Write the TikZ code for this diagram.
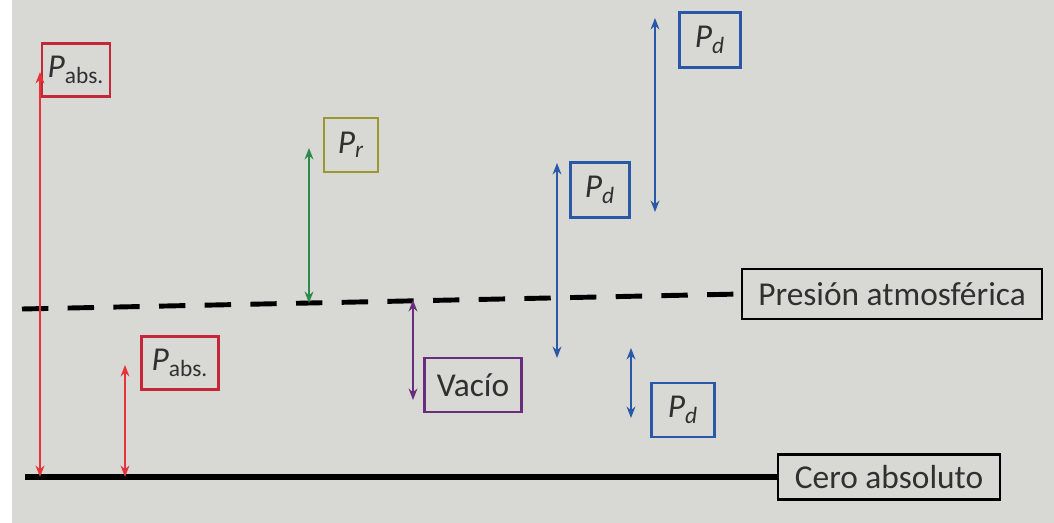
\documentclass[tikz,border=0pt]{standalone}
\usepackage{fontspec}
\setmainfont{Carlito}
\usetikzlibrary{arrows.meta}
\definecolor{paper}{HTML}{D8D8D5}
\definecolor{ink}{HTML}{303030}
\definecolor{redline}{HTML}{E8323A}
\definecolor{redbox}{HTML}{C42838}
\definecolor{greenline}{HTML}{2C8A4C}
\definecolor{olive}{HTML}{9A982E}
\definecolor{purple}{HTML}{6A2C7C}
\definecolor{blueline}{HTML}{2858A6}
\tikzset{
  lbl/.style={draw, line width=1.4pt, inner sep=0pt, text=ink, font=\fontsize{19}{22}\selectfont},
  lvl/.style={draw=black, line width=1.3pt, inner sep=0pt, text=ink, font=\fontsize{19}{22}\selectfont},
  dbl/.style={{Stealth[length=6.5pt,width=5pt]}-{Stealth[length=6.5pt,width=5pt]}, line width=1.4pt},
  atmline/.style={draw=black, line width=2.8pt, dash pattern=on 15pt off 11pt},
  zeroline/.style={draw=black, line width=3.3pt},
}
\begin{document}
\begin{tikzpicture}[x=0.02cm, y=-0.02cm]
  \useasboundingbox (0,0) rectangle (1054,523);
  \fill[paper] (0,0) rectangle (1054,523);
  \fill[white] (0,0) rectangle (12,523);

  % reference levels
  \node[lvl, minimum width=6cm, minimum height=1cm] (atm) at (892,294) {Presión atmosférica};
  \node[lvl, minimum width=4.44cm, minimum height=0.9cm] (zero) at (889,477) {Cero absoluto};
  \coordinate (atmL) at (22,309);
  \coordinate (zeroL) at (25,477);
  \draw[atmline] (atmL) -- (atm.west);
  \draw[zeroline] (zeroL) -- (zero.west);

  % absolute pressures
  \node[lbl, draw=redbox, minimum width=1.36cm, minimum height=1.06cm] (pabsA) at (76,70) {\textit{P}\textsubscript{abs.}};
  \node[lbl, draw=redbox, minimum width=1.54cm, minimum height=1.06cm] (pabsB) at (180,363) {\textit{P}\textsubscript{abs.}};
  \coordinate (a1) at (40,72);
  \coordinate (a2) at (40,477);
  \coordinate (b1) at (125,365);
  \coordinate (b2) at (125,477);
  \draw[dbl, redline] (a1) -- (a2);
  \draw[dbl, redline] (b1) -- (b2);

  % relative pressure
  \node[lbl, draw=olive, minimum width=1.08cm, minimum height=1.08cm] (pr) at (351,145) {\textit{P}\textsubscript{\textit{r}}};
  \coordinate (r1) at (309,148);
  \coordinate (r2) at (309,303);
  \draw[dbl, greenline] (r1) -- (r2);

  % vacuum
  \node[lbl, draw=purple, minimum width=1.94cm, minimum height=1.08cm] (vac) at (473,385) {Vacío};
  \coordinate (v1) at (413,300);
  \coordinate (v2) at (413,400);
  \draw[dbl, purple] (v1) -- (v2);

  % pressure differences
  \node[lbl, draw=blueline, minimum width=1.18cm, minimum height=1.1cm] (pdA) at (600,190) {\textit{P}\textsubscript{\textit{d}}};
  \node[lbl, draw=blueline, minimum width=1.22cm, minimum height=1.1cm] (pdB) at (710,40) {\textit{P}\textsubscript{\textit{d}}};
  \node[lbl, draw=blueline, minimum width=1.26cm, minimum height=1.08cm] (pdC) at (683,410) {\textit{P}\textsubscript{\textit{d}}};
  \coordinate (d1) at (557,163);
  \coordinate (d2) at (557,358);
  \coordinate (e1) at (655,18);
  \coordinate (e2) at (655,212);
  \coordinate (f1) at (631,348);
  \coordinate (f2) at (631,418);
  \draw[dbl, blueline] (d1) -- (d2);
  \draw[dbl, blueline] (e1) -- (e2);
  \draw[dbl, blueline] (f1) -- (f2);
\end{tikzpicture}
\end{document}
